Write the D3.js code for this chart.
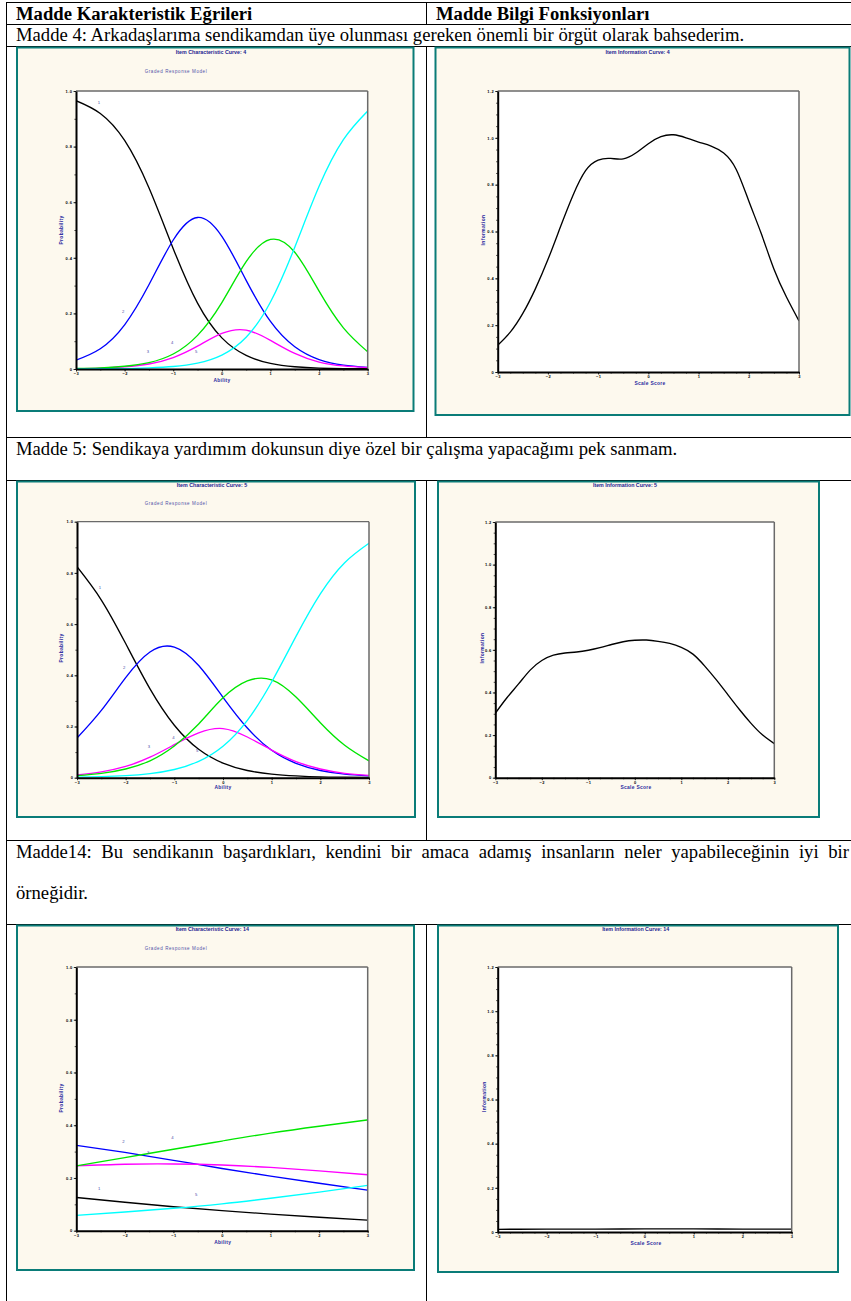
<!DOCTYPE html>
<html><head><meta charset="utf-8">
<script src="https://cdn.jsdelivr.net/npm/d3@7"></script>
<style>body{margin:0;background:#fff}svg{display:block}</style>
</head><body>
<svg id="c" width="851" height="1301"></svg>
<script>
// ---------- DATA ----------
const abilityPoints = [-3,-2.5,-2,-1.5,-1,-0.5,0,0.5,1,1.5,2,2.5,3];
const item4Cat1 = [0.965,0.919,0.822,0.652,0.433,0.237,0.112,0.049,0.020,0.008,0.003,0.001,0.001];
const item4Cat2 = [0.032,0.073,0.159,0.303,0.464,0.545,0.477,0.319,0.171,0.080,0.034,0.014,0.006];
const item4Cat3 = [0.001,0.003,0.008,0.018,0.041,0.082,0.128,0.140,0.103,0.056,0.025,0.011,0.005];
const item4Cat4 = [0.002,0.004,0.010,0.023,0.054,0.121,0.239,0.386,0.466,0.420,0.280,0.148,0.062];
const item4Cat5 = [0.000,0.001,0.001,0.004,0.009,0.021,0.050,0.114,0.241,0.438,0.657,0.825,0.928];

const item5Cat1 = [0.824,0.694,0.524,0.347,0.205,0.111,0.057,0.028,0.014,0.007,0.003,0.002,0.001];
const item5Cat2 = [0.155,0.263,0.391,0.491,0.510,0.438,0.314,0.194,0.107,0.056,0.028,0.014,0.007];
const item5Cat3 = [0.011,0.023,0.044,0.080,0.129,0.175,0.192,0.159,0.108,0.063,0.034,0.017,0.009];
const item5Cat4 = [0.008,0.017,0.034,0.066,0.124,0.210,0.312,0.378,0.382,0.315,0.215,0.127,0.066];
const item5Cat5 = [0.002,0.004,0.008,0.016,0.032,0.064,0.123,0.224,0.374,0.552,0.718,0.840,0.916];

const abilityUnits = [-3,-2,-1,0,1,2,3];
const item14Cat1 = [0.126,0.108,0.091,0.076,0.063,0.051,0.040];
const item14Cat2 = [0.324,0.297,0.267,0.236,0.207,0.180,0.154];
const item14Cat3 = [0.246,0.252,0.253,0.249,0.240,0.227,0.212];
const item14Cat4 = [0.246,0.277,0.309,0.340,0.370,0.396,0.420];
const item14Cat5 = [0.058,0.071,0.085,0.102,0.123,0.146,0.172];

const scorePoints = [-3,-2.75,-2.5,-2.25,-2,-1.75,-1.5,-1.25,-1,-0.75,-0.5,-0.25,0,0.25,0.5,0.75,1,1.25,1.5,1.75,2,2.25,2.5,2.75,3];
const item4Info = [0.114,0.17,0.25,0.355,0.48,0.62,0.755,0.86,0.905,0.912,0.91,0.935,0.975,1.005,1.013,1.0,0.982,0.965,0.935,0.865,0.73,0.59,0.44,0.32,0.218];
const item5Info = [0.302,0.375,0.44,0.505,0.55,0.575,0.585,0.59,0.598,0.61,0.625,0.638,0.645,0.646,0.64,0.63,0.612,0.58,0.525,0.46,0.39,0.32,0.255,0.2,0.16];
const item14Info = [0.012,0.013,0.013,0.014,0.014,0.013,0.013];

const categoryNames = ["1","2","3","4","5"];
const labelAbility = [-2.53,-2.03,-1.52,-1.02,-0.53];
const item4LabelProb = [0.957,0.205,0.061,0.094,0.061];
const item5LabelProb = [0.741,0.428,0.12,0.155,0.104];
const item14LabelProb = [0.158,0.336,0.295,0.352,0.135];

const xTicks = [-3,-2,-1,0,1,2,3];
const iccYTicks = [0,0.2,0.4,0.6,0.8,1.0];
const iicYTicks = [0,0.2,0.4,0.6,0.8,1.0,1.2];

const headerLeft = "Madde Karakteristik Eğrileri";
const headerRight = "Madde Bilgi Fonksiyonları";
const item4Text = "Madde 4: Arkadaşlarıma sendikamdan üye olunması gereken önemli bir örgüt olarak bahsederim.";
const item5Text = "Madde 5: Sendikaya yardımım dokunsun diye özel bir çalışma yapacağımı pek sanmam.";
const item14Line1 = "Madde14: Bu sendikanın başardıkları, kendini bir amaca adamış insanların neler yapabileceğinin iyi bir";
const item14Line2 = "örneğidir.";

// ---------- DRAW ----------
const svg = d3.select('#c');
const serif = "'Liberation Serif','Times New Roman',serif";
const sans = "'Liberation Sans',Arial,sans-serif";
const catColors = ['#000000','#0000ff','#ff00ff','#00e600','#00ffff'];

// table lines
const T = svg.append('g').attr('stroke','#000').attr('stroke-width',1);
[2.5,24.5,46.5,437.5,480.5,840.5,924.5].forEach(y=>T.append('line').attr('x1',6).attr('x2',851).attr('y1',y).attr('y2',y));
T.append('line').attr('x1',6.5).attr('x2',6.5).attr('y1',2).attr('y2',1301);
[[2,24],[46,437],[480,840],[924,1301]].forEach(([a,b])=>T.append('line').attr('x1',426.5).attr('x2',426.5).attr('y1',a).attr('y2',b));

function ttext(s,x,y,bold){
  return svg.append('text').attr('x',x).attr('y',y).attr('font-family',serif).attr('font-size',18.67)
    .attr('font-weight',bold?'bold':'normal').attr('fill','#000').text(s);
}
ttext(headerLeft,16,19.5,true);
ttext(headerRight,436,19.5,true);
ttext(item4Text,16,41);
ttext(item5Text,16,455);
ttext(item14Line2,16,899);
// justified line
(function(){
  const words = item14Line1.split(' ');
  const nodes = words.map(w=>ttext(w,0,858));
  const widths = nodes.map(n=>n.node().getComputedTextLength());
  const total = d3.sum(widths);
  const left=16, right=849;
  const gap = (right-left-total)/(words.length-1);
  let x=left;
  nodes.forEach((n,i)=>{n.attr('x',x); x+=widths[i]+gap;});
})();

let clipId=0;
function drawPanel(cfg){
  const g = svg.append('g');
  const [bx0,by0,bx1,by1]=cfg.box;
  g.append('rect').attr('x',bx0).attr('y',by0).attr('width',bx1-bx0).attr('height',by1-by0)
    .attr('fill','#fdf9ee').attr('stroke','#0a7c78').attr('stroke-width',2);
  const [px0,py0,px1,py1]=cfg.plot;
  const x = d3.scaleLinear().domain([-3,3]).range([px0,px1]);
  const y = d3.scaleLinear().domain([0,cfg.yMax]).range([py1,py0]);
  g.append('rect').attr('x',px0).attr('y',py0).attr('width',px1-px0).attr('height',py1-py0).attr('fill','#fff');
  const id='clip'+(clipId++);
  g.append('clipPath').attr('id',id).append('rect').attr('x',px0).attr('y',py0-1).attr('width',px1-px0).attr('height',py1-py0+1);
  const cg = g.append('g').attr('clip-path',`url(#${id})`);
  const line = d3.line().x(d=>x(d[0])).y(d=>y(d[1])).curve(d3.curveNatural);
  cfg.series.forEach(s=>{
    cg.append('path').datum(s.xs.map((v,i)=>[v,s.ys[i]])).attr('d',line)
      .attr('fill','none').attr('stroke',s.color).attr('stroke-width',1.35);
  });
  // frame top/right
  g.append('line').attr('x1',px0).attr('x2',px1).attr('y1',py0).attr('y2',py0).attr('stroke','#6a6a6a').attr('stroke-width',1.3);
  g.append('line').attr('x1',px1).attr('x2',px1).attr('y1',py0).attr('y2',py1).attr('stroke','#6a6a6a').attr('stroke-width',1.5);
  // minor ticks
  const yMinor = d3.range(0,cfg.yMax+1e-9,cfg.yMinor);
  const xMinor = d3.range(-3,3+1e-9,cfg.xMinor);
  g.append('g').attr('transform',`translate(${px0},0)`).call(d3.axisLeft(y).tickValues(yMinor).tickSize(1.6).tickFormat('').tickSizeOuter(0))
    .call(a=>{a.select('.domain').remove();a.selectAll('line').attr('stroke','#000').attr('stroke-width',0.7);});
  g.append('g').attr('transform',`translate(0,${py1})`).call(d3.axisBottom(x).tickValues(xMinor).tickSize(1.6).tickFormat('').tickSizeOuter(0))
    .call(a=>{a.select('.domain').remove();a.selectAll('line').attr('stroke','#000').attr('stroke-width',0.7);});
  const styleAxis = a=>{
    a.attr('font-size',4).attr('font-family',sans);
    a.select('.domain').attr('stroke','#000').attr('stroke-width',2);
    a.selectAll('line').attr('stroke','#000').attr('stroke-width',0.8);
    a.selectAll('text').attr('font-weight','bold').attr('fill','#000').attr('letter-spacing',0.45);
  };
  g.append('g').attr('transform',`translate(${px0},0)`)
    .call(d3.axisLeft(y).tickValues(cfg.yTicks).tickSize(2.5).tickPadding(1).tickSizeOuter(0)
      .tickFormat(d=>d===0?'0':d3.format('.1f')(d))).call(styleAxis);
  g.append('g').attr('transform',`translate(0,${py1})`)
    .call(d3.axisBottom(x).tickValues(xTicks).tickSize(2.5).tickPadding(0.6).tickSizeOuter(0)
      .tickFormat(d3.format('d'))).call(styleAxis);
  // titles
  g.append('text').attr('x',cfg.titlePos[0]).attr('y',cfg.titlePos[1]).attr('text-anchor','middle')
    .attr('dominant-baseline','middle').attr('font-family',sans).attr('font-size',5.3).attr('font-weight','bold')
    .attr('fill','#1c1c90').text(cfg.title);
  if(cfg.subtitle){
    g.append('text').attr('x',cfg.subPos[0]).attr('y',cfg.subPos[1]).attr('text-anchor','middle')
      .attr('dominant-baseline','middle').attr('font-family',sans).attr('font-size',4.5)
      .attr('letter-spacing',0.6).attr('fill','#5252a8').text(cfg.subtitle);
  }
  g.append('text').attr('x',cfg.xLabelPos[0]).attr('y',cfg.xLabelPos[1]).attr('text-anchor','middle')
    .attr('dominant-baseline','middle').attr('font-family',sans).attr('font-size',4.9).attr('font-weight','bold')
    .attr('letter-spacing',0.3).attr('fill','#2a2aa0').text(cfg.xLabel);
  g.append('text').attr('transform',`translate(${cfg.yLabelPos[0]},${cfg.yLabelPos[1]}) rotate(-90)`)
    .attr('text-anchor','middle').attr('dominant-baseline','middle').attr('font-family',sans)
    .attr('font-size',4.9).attr('font-weight','bold').attr('letter-spacing',0.35).attr('fill','#2a2aa0').text(cfg.yLabel);
  if(cfg.labels){
    cfg.labels.ys.forEach((p,i)=>{
      g.append('text').attr('x',x(labelAbility[i])).attr('y',y(p)).attr('text-anchor','middle')
        .attr('dominant-baseline','middle').attr('font-family',sans).attr('font-size',4.2)
        .attr('fill','#4a4aa8').text(categoryNames[i]);
    });
  }
}

const iccSeries = (xs,arrs)=>arrs.map((a,i)=>({xs:xs,ys:a,color:catColors[i]}));

drawPanel({box:[17,47.5,413.5,411],plot:[76,91,367.7,369],yMax:1,yTicks:iccYTicks,yMinor:0.1,xMinor:0.5,
  title:'Item Characteristic Curve: 4',titlePos:[211,53],subtitle:'Graded Response Model',subPos:[176,72],
  xLabel:'Ability',xLabelPos:[222,381],yLabel:'Probability',yLabelPos:[62,230],
  series:iccSeries(abilityPoints,[item4Cat1,item4Cat2,item4Cat3,item4Cat4,item4Cat5]),labels:{ys:item4LabelProb}});
drawPanel({box:[435.5,47.5,849.5,415],plot:[497.7,91,799,372],yMax:1.2,yTicks:iicYTicks,yMinor:0.05,xMinor:0.25,
  title:'Item Information Curve: 4',titlePos:[637.7,53],
  xLabel:'Scale Score',xLabelPos:[650,384],yLabel:'Information',yLabelPos:[484,230],
  series:[{xs:scorePoints,ys:item4Info,color:'#000'}]});
drawPanel({box:[17,481.5,415,817],plot:[77,521.7,369,777.7],yMax:1,yTicks:iccYTicks,yMinor:0.1,xMinor:0.5,
  title:'Item Characteristic Curve: 5',titlePos:[212,486],subtitle:'Graded Response Model',subPos:[176,504.3],
  xLabel:'Ability',xLabelPos:[223,788],yLabel:'Probability',yLabelPos:[62,648],
  series:iccSeries(abilityPoints,[item5Cat1,item5Cat2,item5Cat3,item5Cat4,item5Cat5]),labels:{ys:item5LabelProb}});
drawPanel({box:[438,481.5,819,817],plot:[495.3,522,774.3,777.7],yMax:1.2,yTicks:iicYTicks,yMinor:0.05,xMinor:0.25,
  title:'Item Information Curve: 5',titlePos:[625,486],
  xLabel:'Scale Score',xLabelPos:[636,788],yLabel:'Information',yLabelPos:[482.3,648],
  series:[{xs:scorePoints,ys:item5Info,color:'#000'}]});
drawPanel({box:[17,925.5,414,1270],plot:[76.3,967,367.7,1230.7],yMax:1,yTicks:iccYTicks,yMinor:0.1,xMinor:0.5,
  title:'Item Characteristic Curve: 14',titlePos:[212.3,930],subtitle:'Graded Response Model',subPos:[176,949.3],
  xLabel:'Ability',xLabelPos:[222.7,1242.3],yLabel:'Probability',yLabelPos:[62,1098],
  series:iccSeries(abilityUnits,[item14Cat1,item14Cat2,item14Cat3,item14Cat4,item14Cat5]),labels:{ys:item14LabelProb}});
drawPanel({box:[438,925.5,838,1272],plot:[497.7,967,791.7,1232],yMax:1.2,yTicks:iicYTicks,yMinor:0.05,xMinor:0.25,
  title:'Item Information Curve: 14',titlePos:[635.7,930],
  xLabel:'Scale Score',xLabelPos:[646,1243.3],yLabel:'Information',yLabelPos:[485,1096.7],
  series:[{xs:abilityUnits,ys:item14Info,color:'#000'}]});
</script>
</body></html>
